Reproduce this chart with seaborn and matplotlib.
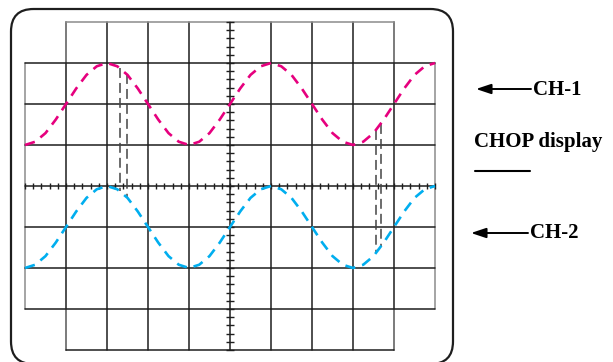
import numpy as np
import pandas as pd
import seaborn as sns
import matplotlib.pyplot as plt
from matplotlib.patches import FancyBboxPatch

# screen positions in divisions (10 x 8 graticule), samples every quarter div
t = [-5 + 0.25 * i for i in range(41)]

# CH-1 trace (divisions)
ch1 = [1.00, 1.08, 1.29, 1.62, 2.00, 2.38, 2.71, 2.92, 3.00, 2.92, 2.71, 2.38,
       2.00, 1.62, 1.29, 1.08, 1.00, 1.08, 1.29, 1.62, 2.00, 2.38, 2.71, 2.92,
       3.00, 2.92, 2.71, 2.38, 2.00, 1.62, 1.29, 1.08, 1.00, 1.08, 1.29, 1.62,
       2.00, 2.38, 2.71, 2.92, 3.00]

# CH-2 trace
ch2 = [-2.00, -1.92, -1.71, -1.38, -1.00, -0.62, -0.29, -0.08, 0.00, -0.08,
       -0.29, -0.62, -1.00, -1.38, -1.71, -1.92, -2.00, -1.92, -1.71, -1.38,
       -1.00, -0.62, -0.29, -0.08, 0.00, -0.08, -0.29, -0.62, -1.00, -1.38,
       -1.71, -1.92, -2.00, -1.92, -1.71, -1.38, -1.00, -0.62, -0.29, -0.08,
       0.00]

# chop switching lines: x position, top (CH-1) and bottom (CH-2) ends
chop_x = [-2.68, -2.52, 3.56, 3.68]
chop_top = [2.88, 2.74, 1.36, 1.52]
chop_bot = [-0.12, -0.30, -1.64, -1.48]

labels = ["CH-1", "CHOP display", "CH-2"]

PINK = "#e6007e"
BLUE = "#00aeef"
DARK = "#1e1e1e"
GRAY = "#8c8c8c"


def px(x):
    return (x - 230) / 41.0


def py(y):
    return (186 - y) / 41.0


sns.set_style("white")
fig = plt.figure(figsize=(6.13, 3.62), dpi=100)
ax = fig.add_axes([0, 0, 1, 1])
ax.set_xlim(px(0), px(613))
ax.set_ylim(py(362), py(0))
ax.axis("off")

# bezel
bezel = FancyBboxPatch((px(11), py(364)), px(453) - px(11), py(9) - py(364),
                       boxstyle="round,pad=0,rounding_size=0.55",
                       fc="none", ec=DARK, lw=1.6, zorder=1)
ax.add_patch(bezel)

# graticule
glw = 1.1
for x in range(-4, 5):
    ax.plot([x, x], [-3, 3], color=DARK, lw=glw, zorder=2)
    ax.plot([x, x], [-4, -3], color=DARK, lw=glw, zorder=2)
    ax.plot([x, x], [3, 4], color=DARK, lw=glw, zorder=2)
for x in [-4, 4]:
    ax.plot([x, x], [3, 4], color=GRAY, lw=glw, zorder=2)
    ax.plot([x, x], [-4, -3], color=GRAY, lw=glw, zorder=2)
for x in [-5, 5]:
    ax.plot([x, x], [-3, 3], color=GRAY, lw=glw, zorder=2)
for y in range(-3, 4):
    ax.plot([-5, 5], [y, y], color=DARK, lw=glw, zorder=2)
ax.plot([-4, 4], [-4, -4], color=DARK, lw=glw, zorder=2)
ax.plot([-4, 4], [4, 4], color=GRAY, lw=glw, zorder=2)

# minor ticks on the centre axes
ticks = np.arange(-5, 5.01, 0.2)
ax.vlines(ticks, -0.08, 0.08, color=DARK, lw=1.0, zorder=2)
vticks = np.arange(-4, 4.01, 0.2)
ax.hlines(vticks, -0.09, 0.09, color=DARK, lw=1.0, zorder=2)

# traces
df = pd.DataFrame({"t": t, "ch1": ch1, "ch2": ch2})
sns.lineplot(data=df, x="t", y="ch1", color=PINK, lw=1.9, ax=ax, zorder=4)
sns.lineplot(data=df, x="t", y="ch2", color=BLUE, lw=1.9, ax=ax, zorder=4)
for line in ax.lines[-2:]:
    line.set_dashes((3.9, 2.7))
ax.set_xlabel("")
ax.set_ylabel("")
ax.set_xlim(px(0), px(613))
ax.set_ylim(py(362), py(0))

# chop transitions
for x, top, bot in zip(chop_x, chop_top, chop_bot):
    ax.plot([x, x], [top, bot], color="#444444", lw=1.1, dashes=(6.5, 3.3), zorder=3)

# annotations on the right
font = dict(family="Liberation Serif", weight="bold", fontsize=15, color="black")
arrow = dict(arrowstyle="-|>,head_length=0.9,head_width=0.3",
             color="black", lw=1.4, shrinkA=0, shrinkB=0)
ax.annotate("", xy=(px(476), py(89)), xytext=(px(531), py(89)), arrowprops=arrow)
ax.text(px(533), py(95), labels[0], ha="left", va="baseline", **font)

ax.text(px(474), py(147), labels[1], ha="left", va="baseline", **font)
ax.plot([px(475), px(530)], [py(171), py(171)], color="black", lw=1.5)

ax.annotate("", xy=(px(471), py(233)), xytext=(px(528), py(233)), arrowprops=arrow)
ax.text(px(530), py(238), labels[2], ha="left", va="baseline", **font)

fig.savefig("out.png", dpi=100)
